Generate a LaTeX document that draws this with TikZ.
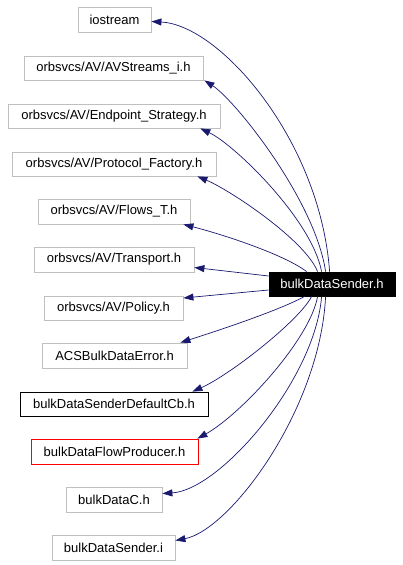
\documentclass[tikz,border=0pt]{standalone}
\usepackage{fontspec}
\setmainfont{Liberation Sans}
\usetikzlibrary{arrows.meta}
\definecolor{edgeblue}{HTML}{191970}
\definecolor{boxgray}{HTML}{BFBFBF}
\begin{document}
\begin{tikzpicture}[x=1pt,y=-1pt,
  box/.style={draw=boxgray,line width=0.8pt,inner sep=0pt,minimum height=24pt,
    font=\fontsize{13}{15}\selectfont,fill=white},
  srcbox/.style={box,draw=black,fill=black,text=white},
  blackbox/.style={box,draw=black},
  redbox/.style={box,draw=red},
  dep/.style={draw=edgeblue,line width=0.7pt,-{Triangle[length=10pt,width=7pt]},fill=none}]
\useasboundingbox (0,0) rectangle (403,565);
\node[box,minimum width=73pt,minimum height=25pt] (io) at (114.5,19.5) {iostream};
\node[box,minimum width=179pt] (avs) at (113.5,68) {orbsvcs/AV/AVStreams\_i.h};
\node[box,minimum width=212pt] (ep) at (114,116) {orbsvcs/AV/Endpoint\_Strategy.h};
\node[box,minimum width=204pt] (pf) at (114,164) {orbsvcs/AV/Protocol\_Factory.h};
\node[box,minimum width=152pt,minimum height=25pt] (fl) at (114,211.5) {orbsvcs/AV/Flows\_T.h};
\node[box,minimum width=160pt,minimum height=25pt] (tr) at (114,259.5) {orbsvcs/AV/Transport.h};
\node[srcbox,minimum width=126pt] (src) at (332,284) {bulkDataSender.h};
\node[box,minimum width=139pt] (po) at (113.5,308) {orbsvcs/AV/Policy.h};
\node[box,minimum width=145pt,minimum height=25pt] (acs) at (114.5,355.5) {ACSBulkDataError.h};
\node[blackbox,minimum width=188pt] (cb) at (114,404) {bulkDataSenderDefaultCb.h};
\node[redbox,minimum width=167pt,minimum height=25pt] (fp) at (114.5,451.5) {bulkDataFlowProducer.h};
\node[box,minimum width=96pt,minimum height=25pt] (dc) at (114,499.5) {bulkDataC.h};
\node[box,minimum width=123pt,minimum height=25pt] (di) at (113.5,547.5) {bulkDataSender.i};
% edges
\draw[dep] ([xshift=61pt]src.north west) .. controls (320,140) and (220,25) .. ([yshift=-2pt]io.east);
\draw[dep] ([xshift=57pt]src.north west) .. controls (315,200) and (235,100) .. ([xshift=1pt]avs.south east);
\draw[dep] ([xshift=53pt]src.north west) .. controls (312,220) and (235,145) .. ([xshift=-20pt]ep.south east);
\draw[dep] ([xshift=49pt]src.north west) .. controls (305,240) and (230,190) .. ([xshift=-19pt]pf.south east);
\draw[dep] ([xshift=38pt]src.north west) .. controls (285,255) and (225,235) .. ([xshift=-7pt]fl.south east);
\draw[dep] ([yshift=8pt]src.west) -- ([yshift=-8pt]tr.east);
\draw[dep] ([yshift=-6pt]src.west) -- ([yshift=10pt]po.east);
\draw[dep] ([xshift=36pt]src.south west) .. controls (280,310) and (220,330) .. ([xshift=-7pt]acs.north east);
\draw[dep] ([xshift=43pt]src.south west) .. controls (300,320) and (230,375) .. ([xshift=-16pt]cb.north east);
\draw[dep] ([xshift=49pt]src.south west) .. controls (310,340) and (240,415) .. ([xshift=-1pt]fp.north east);
\draw[dep] ([xshift=53pt]src.south west) .. controls (315,380) and (220,490) .. ([yshift=6pt]dc.east);
\draw[dep] ([xshift=57pt]src.south west) .. controls (320,410) and (230,530) .. ([yshift=7pt]di.east);
\end{tikzpicture}
\end{document}
